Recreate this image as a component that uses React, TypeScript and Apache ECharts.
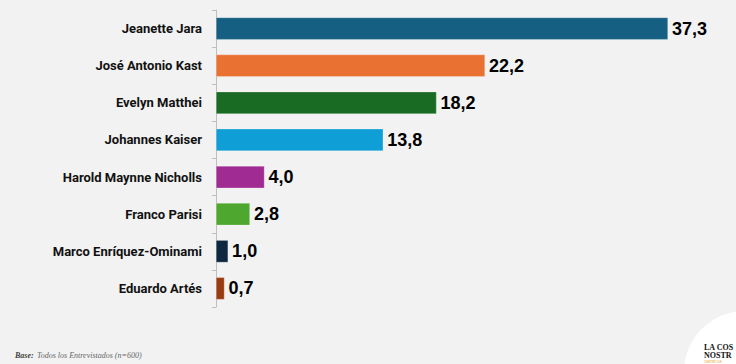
import React, { useEffect, useRef } from "react";
import * as echarts from "echarts";

const categories = [
  "Jeanette Jara",
  "José Antonio Kast",
  "Evelyn Matthei",
  "Johannes Kaiser",
  "Harold Maynne Nicholls",
  "Franco Parisi",
  "Marco Enríquez-Ominami",
  "Eduardo Artés",
];
const values = [37.3, 22.2, 18.2, 13.8, 4.0, 2.8, 1.0, 0.7];
const barColors = [
  "#156082",
  "#E97132",
  "#196B24",
  "#0F9ED5",
  "#A02B93",
  "#4EA72E",
  "#0E2841",
  "#9A3C12",
];

export default function App() {
  const ref = useRef<HTMLDivElement>(null);
  useEffect(() => {
    if (!ref.current) return;
    const chart = echarts.init(ref.current, undefined, { renderer: "svg" });
    chart.setOption({
      animation: false,
      backgroundColor: "#f2f2f2",
      grid: { left: 216, top: 10, height: 297, width: 484.7 },
      xAxis: {
        type: "value",
        min: 0,
        max: 40,
        show: false,
      },
      yAxis: {
        type: "category",
        data: categories,
        inverse: true,
        axisLine: { show: true, lineStyle: { color: "#bfbfbf", width: 1 } },
        axisTick: { show: true, length: 4, lineStyle: { color: "#bfbfbf" } },
        axisLabel: {
          margin: 14,
          fontFamily: "Roboto",
          fontWeight: "bold",
          fontSize: 13,
          color: "#111111",
        },
        splitLine: { show: false },
      },
      series: [
        {
          type: "bar",
          barCategoryGap: "40%",
          data: values.map((v, i) => ({
            value: v,
            itemStyle: { color: barColors[i] },
          })),
          itemStyle: { borderColor: "rgba(255,255,255,0.5)", borderWidth: 0.5 },
          label: {
            show: true,
            position: "right",
            distance: 4,
            fontFamily: "Liberation Sans",
            fontWeight: "bold",
            fontSize: 18,
            color: "#000000",
            formatter: (p: any) => p.value.toFixed(1).replace(".", ","),
          },
        },
      ],
      graphic: [
        {
          type: "text",
          left: 15,
          top: 349,
          style: {
            text: "{b|Base:} {i|Todos los Entrevistados (n=600)}",
            rich: {
              b: {
                fontFamily: "Liberation Serif",
                fontStyle: "italic",
                fontWeight: "bold",
                fontSize: 8,
                fill: "#444",
              },
              i: {
                fontFamily: "Liberation Serif",
                fontStyle: "italic",
                fontSize: 8,
                fill: "#666",
              },
            },
          },
        },
        {
          type: "circle",
          shape: { cx: 745, cy: 372, r: 61 },
          style: { fill: "#ffffff" },
        },
        {
          type: "text",
          x: 704,
          y: 343,
          style: {
            text: "LA COS",
            fontFamily: "Liberation Serif",
            fontWeight: "bold",
            fontSize: 8,
            fill: "#111",
          },
        },
        {
          type: "text",
          x: 704,
          y: 351.5,
          style: {
            text: "NOSTR",
            fontFamily: "Liberation Serif",
            fontWeight: "bold",
            fontSize: 8,
            fill: "#111",
          },
        },
        {
          type: "text",
          x: 704,
          y: 360,
          style: {
            text: "CENTRO DE",
            fontFamily: "Liberation Sans",
            fontSize: 3,
            fill: "#E8A317",
          },
        },
      ],
    });
    return () => chart.dispose();
  }, []);
  return (
    <div
      ref={ref}
      style={{ position: "fixed", left: 0, top: 0, width: 736, height: 364 }}
    />
  );
}
